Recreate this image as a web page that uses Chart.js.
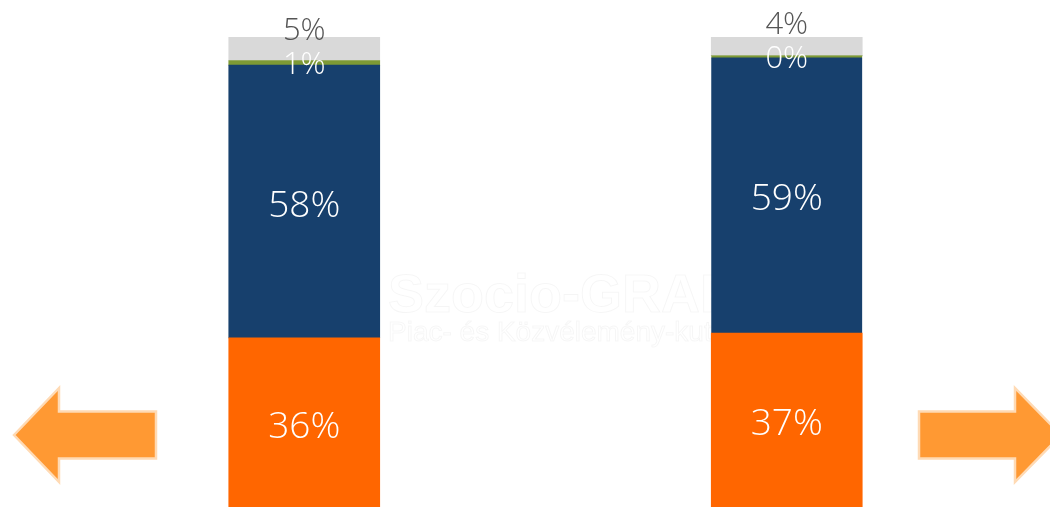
<!DOCTYPE html>
<html>
<head>
<meta charset="utf-8">
<script src="https://cdn.jsdelivr.net/npm/chart.js@4.4.1/dist/chart.umd.min.js"></script>
<style>
  html, body { margin: 0; padding: 0; background: #ffffff; overflow: hidden; }
  #wrap { width: 1050px; height: 507px; position: relative; }
</style>
</head>
<body>
<div id="wrap"><canvas id="chart" width="1050" height="507"></canvas></div>
<script>
// Two 100% stacked columns
const categories = ['I.', 'II.'];
const seriesNames = ['Sorozat1', 'Sorozat2', 'Sorozat3', 'Sorozat4'];
const orangeShare = [36, 37];
const navyShare = [58, 59];
const greenShare = [1, 0];
const greyShare = [5, 4];

const seriesColors = ['#FF6600', '#17406D', '#7E9A35', '#D9D9D9'];

// Per-series label styling: colour, font size, vertical nudge per column
const labelStyles = [
  { color: '#ffffff', size: 37, dy: [2, 2] },
  { color: '#ffffff', size: 37, dy: [2, 2] },
  { color: '#ffffff', size: 31, dy: [0.5, 1.5] },
  { color: '#555555', size: 31, dy: [-19.5, -23.5] }
];

const FONT = "'Open Sans', 'DejaVu Sans', sans-serif";

// Faint company mark behind the columns
const watermark = {
  id: 'watermark',
  beforeDatasetsDraw(chart) {
    const ctx = chart.ctx;
    ctx.save();
    ctx.textAlign = 'left';
    ctx.textBaseline = 'alphabetic';
    ctx.lineWidth = 1;
    ctx.strokeStyle = 'rgba(0,0,0,0.04)';
    ctx.fillStyle = '#ffffff';
    ctx.font = "bold 54px 'Liberation Sans', Arial, sans-serif";
    ctx.fillText('Szocio-GRAF', 388, 312);
    ctx.strokeText('Szocio-GRAF', 388, 312);
    ctx.font = "28px 'Liberation Sans', Arial, sans-serif";
    ctx.fillText('Piac- és Közvélemény-kutató', 388, 341);
    ctx.strokeText('Piac- és Közvélemény-kutató', 388, 341);
    ctx.restore();
  }
};

// Percentage labels centred on each segment
const segmentLabels = {
  id: 'segmentLabels',
  afterDatasetsDraw(chart) {
    const ctx = chart.ctx;
    ctx.save();
    ctx.textAlign = 'center';
    ctx.textBaseline = 'alphabetic';
    chart.data.datasets.forEach((ds, i) => {
      const st = labelStyles[i];
      const meta = chart.getDatasetMeta(i);
      meta.data.forEach((bar, j) => {
        const p = bar.getProps(['x', 'y', 'base'], true);
        const cy = (p.y + p.base) / 2 + st.dy[j];
        ctx.font = '300 ' + st.size + 'px ' + FONT;
        ctx.fillStyle = st.color;
        ctx.fillText(ds.data[j] + '%', p.x, cy + 0.357 * st.size);
      });
    });
    ctx.restore();
  }
};

// Orange navigation arrows at the sides
const sideArrows = {
  id: 'sideArrows',
  afterDraw(chart) {
    const ctx = chart.ctx;
    const cy = 435, headH = 47, shaftH = 23.5;
    function arrow(tipX, backX, endX) {
      ctx.beginPath();
      ctx.moveTo(tipX, cy);
      ctx.lineTo(backX, cy - headH);
      ctx.lineTo(backX, cy - shaftH);
      ctx.lineTo(endX, cy - shaftH);
      ctx.lineTo(endX, cy + shaftH);
      ctx.lineTo(backX, cy + shaftH);
      ctx.lineTo(backX, cy + headH);
      ctx.closePath();
      ctx.fill();
      ctx.stroke();
    }
    ctx.save();
    ctx.fillStyle = '#FF9933';
    ctx.strokeStyle = '#FFDAB4';
    ctx.lineWidth = 2.5;
    ctx.lineJoin = 'miter';
    arrow(14, 59, 156);
    arrow(1061, 1015, 919);
    ctx.restore();
  }
};

const datasets = [orangeShare, navyShare, greenShare, greyShare].map((values, i) => ({
  label: seriesNames[i],
  data: values,
  backgroundColor: seriesColors[i],
  borderWidth: 0,
  barThickness: 151
}));

// A zero-share green segment still shows as a hairline edge on top of the navy segment
datasets[1].borderColor = seriesColors[2];
datasets[1].borderSkipped = 'start';
datasets[1].borderWidth = greenShare.map(v => (v === 0 ? { top: 2, left: 0, right: 0, bottom: 0 } : 0));

new Chart(document.getElementById('chart'), {
  type: 'bar',
  data: { labels: categories, datasets },
  options: {
    responsive: false,
    devicePixelRatio: 1,
    animation: false,
    layout: { padding: { left: 63, right: 22, top: 37, bottom: 0 } },
    plugins: { legend: { display: false }, tooltip: { enabled: false } },
    scales: {
      x: { stacked: true, display: false },
      y: { stacked: true, display: false, min: 0, max: 100 }
    }
  },
  plugins: [watermark, segmentLabels, sideArrows]
});
</script>
</body>
</html>
